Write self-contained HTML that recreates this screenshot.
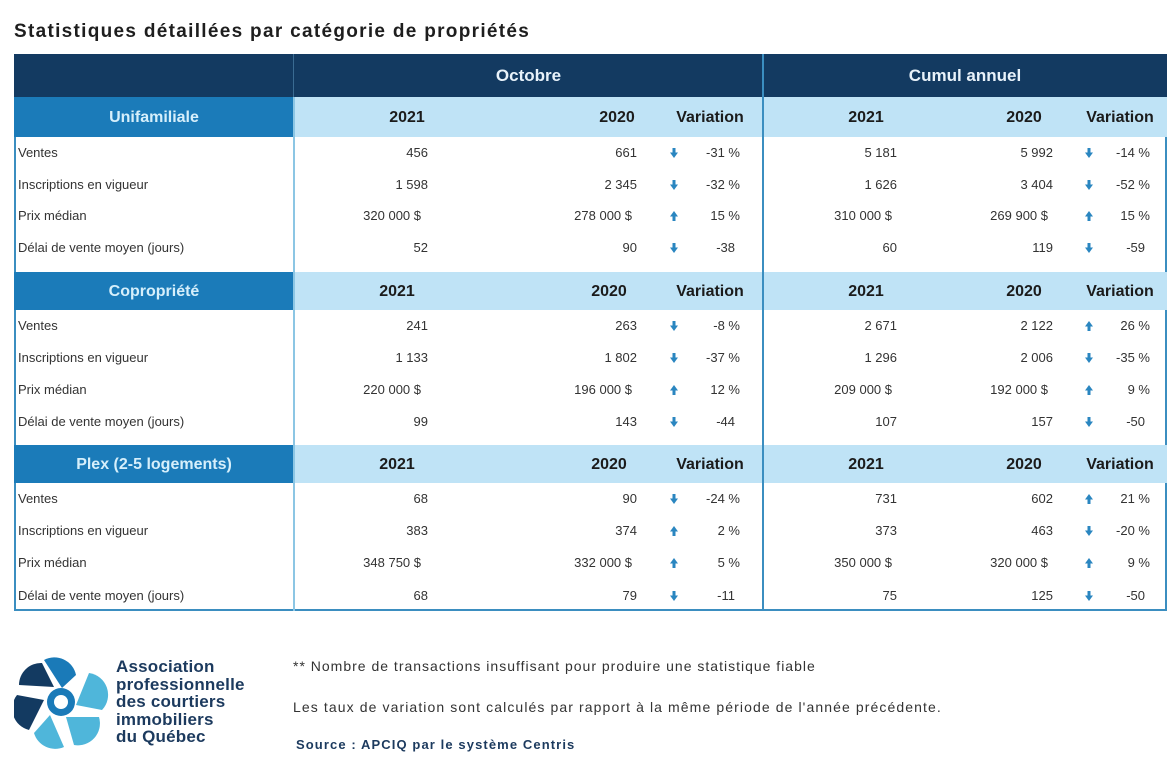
<!DOCTYPE html>
<html><head><meta charset="utf-8"><style>
*{margin:0;padding:0;box-sizing:border-box}
body{width:1174px;height:759px;background:#fff;position:relative;font-family:"Liberation Sans",sans-serif;overflow:hidden}
.a{position:absolute;white-space:nowrap}
.t{font-size:13px;color:#333;line-height:16px}
.r{text-align:right}
.h{font-weight:bold;font-size:16px;color:#1b1b1b;line-height:20px}
.c{text-align:center}
</style></head><body>
<div class="a" style="left:14px;top:21px;font-size:19px;letter-spacing:1.3px;font-weight:bold;color:#1e1e1e">Statistiques détaillées par catégorie de propriétés</div>

<div class="a" style="left:14px;top:54px;width:1153px;height:557px;border:2px solid #3b8ec0"></div>
<div class="a" style="left:14px;top:54px;width:1153px;height:43px;background:#133a61"></div>
<div class="a h c" style="left:294px;top:66px;width:469px;color:#e8f2fa;font-size:17px">Octobre</div>
<div class="a h c" style="left:763px;top:66px;width:404px;color:#e8f2fa;font-size:17px">Cumul annuel</div>

<div class="a" style="left:14px;top:97px;width:280px;height:40px;background:#1b7bb9"></div>
<div class="a" style="left:294px;top:97px;width:873px;height:40px;background:#bfe3f6"></div>
<div class="a" style="left:14px;top:272px;width:280px;height:38px;background:#1b7bb9"></div>
<div class="a" style="left:294px;top:272px;width:873px;height:38px;background:#bfe3f6"></div>
<div class="a" style="left:14px;top:445px;width:280px;height:38px;background:#1b7bb9"></div>
<div class="a" style="left:294px;top:445px;width:873px;height:38px;background:#bfe3f6"></div>

<div class="a" style="left:293px;top:97px;width:2px;height:514px;background:#8cc6e4"></div>
<div class="a" style="left:293px;top:54px;width:1px;height:43px;background:#3a6b92"></div>
<div class="a" style="left:762px;top:54px;width:2px;height:557px;background:#3b8ec0"></div>

<div class="a h c" style="left:14px;top:108px;width:280px;color:#d6effb">Unifamiliale</div>
<div class="a h c" style="left:14px;top:282px;width:280px;color:#d6effb">Copropriété</div>
<div class="a h c" style="left:14px;top:455px;width:280px;color:#d6effb">Plex (2-5 logements)</div>

<div class="a h c" style="left:367px;top:108px;width:80px">2021</div>
<div class="a h c" style="left:577px;top:108px;width:80px">2020</div>
<div class="a h c" style="left:660px;top:108px;width:100px">Variation</div>
<div class="a h c" style="left:826px;top:108px;width:80px">2021</div>
<div class="a h c" style="left:984px;top:108px;width:80px">2020</div>
<div class="a h c" style="left:1070px;top:108px;width:100px">Variation</div>

<div class="a h c" style="left:357px;top:282px;width:80px">2021</div>
<div class="a h c" style="left:569px;top:282px;width:80px">2020</div>
<div class="a h c" style="left:660px;top:282px;width:100px">Variation</div>
<div class="a h c" style="left:826px;top:282px;width:80px">2021</div>
<div class="a h c" style="left:984px;top:282px;width:80px">2020</div>
<div class="a h c" style="left:1070px;top:282px;width:100px">Variation</div>

<div class="a h c" style="left:357px;top:455px;width:80px">2021</div>
<div class="a h c" style="left:569px;top:455px;width:80px">2020</div>
<div class="a h c" style="left:660px;top:455px;width:100px">Variation</div>
<div class="a h c" style="left:826px;top:455px;width:80px">2021</div>
<div class="a h c" style="left:984px;top:455px;width:80px">2020</div>
<div class="a h c" style="left:1070px;top:455px;width:100px">Variation</div>

<svg width="0" height="0" style="position:absolute"><defs>
<symbol id="dn" viewBox="0 0 8 10"><rect x="2.5" y="0" width="3" height="5" fill="#2a86c0"/><polygon points="0,4.5 8,4.5 4,10" fill="#2a86c0"/></symbol>
<symbol id="up" viewBox="0 0 8 10"><rect x="2.5" y="5" width="3" height="5" fill="#2a86c0"/><polygon points="0,5.5 8,5.5 4,0" fill="#2a86c0"/></symbol>
</defs></svg>

<div id="rows"></div>
<script>
var data=[
[153,"Ventes","456","661","dn","-31 %","5 181","5 992","dn","-14 %"],
[185,"Inscriptions en vigueur","1 598","2 345","dn","-32 %","1 626","3 404","dn","-52 %"],
[216,"Prix médian","320 000 $","278 000 $","up","15 %","310 000 $","269 900 $","up","15 %"],
[248,"Délai de vente moyen (jours)","52","90","dn","-38","60","119","dn","-59"],
[326,"Ventes","241","263","dn","-8 %","2 671","2 122","up","26 %"],
[358,"Inscriptions en vigueur","1 133","1 802","dn","-37 %","1 296","2 006","dn","-35 %"],
[390,"Prix médian","220 000 $","196 000 $","up","12 %","209 000 $","192 000 $","up","9 %"],
[422,"Délai de vente moyen (jours)","99","143","dn","-44","107","157","dn","-50"],
[499,"Ventes","68","90","dn","-24 %","731","602","up","21 %"],
[531,"Inscriptions en vigueur","383","374","up","2 %","373","463","dn","-20 %"],
[563,"Prix médian","348 750 $","332 000 $","up","5 %","350 000 $","320 000 $","up","9 %"],
[596,"Délai de vente moyen (jours)","68","79","dn","-11","75","125","dn","-50"]];
var h="";
data.forEach(function(d){
var t=d[0]-8;
var p1=d[2].indexOf("$")>0?421:428, p4=d[6].indexOf("$")>0?892:897;
var p2=d[3].indexOf("$")>0?632:637, p5=d[7].indexOf("$")>0?1048:1053;
var v1=d[5].indexOf("%")>0?740:735, v2=d[9].indexOf("%")>0?1150:1145;
h+='<div class="a t" style="left:18px;top:'+t+'px">'+d[1]+'</div>';
h+='<div class="a t r" style="right:'+(1174-p1)+'px;top:'+t+'px">'+d[2]+'</div>';
h+='<div class="a t r" style="right:'+(1174-p2)+'px;top:'+t+'px">'+d[3]+'</div>';
h+='<svg class="a" style="left:670px;top:'+(d[0]-5)+'px" width="8" height="10"><use href="#'+d[4]+'"/></svg>';
h+='<div class="a t r" style="right:'+(1174-v1)+'px;top:'+t+'px">'+d[5]+'</div>';
h+='<div class="a t r" style="right:'+(1174-p4)+'px;top:'+t+'px">'+d[6]+'</div>';
h+='<div class="a t r" style="right:'+(1174-p5)+'px;top:'+t+'px">'+d[7]+'</div>';
h+='<svg class="a" style="left:1085px;top:'+(d[0]-5)+'px" width="8" height="10"><use href="#'+d[8]+'"/></svg>';
h+='<div class="a t r" style="right:'+(1174-v2)+'px;top:'+t+'px">'+d[9]+'</div>';
});
document.getElementById("rows").innerHTML=h;
</script>

<svg class="a" style="left:14px;top:655px" width="95" height="95" viewBox="0 0 95 95">
<circle cx="47" cy="47" r="14" fill="#1a7ab8"/>
<path d="M30 5 A22 22 0 0 1 62 20 L48 33 Z" fill="#1a7ab8"/>
<path d="M75 18 A22 22 0 0 1 88 55 L62 50 Z" fill="#4fb6da"/>
<path d="M85 62 A22 22 0 0 1 60 90 L52 62 Z" fill="#4fb6da"/>
<path d="M50 92 A22 22 0 0 1 20 78 L36 60 Z" fill="#4fb6da"/>
<path d="M15 75 A22 22 0 0 1 3 40 L30 45 Z" fill="#133a61"/>
<path d="M5 30 A22 22 0 0 1 28 8 L40 32 Z" fill="#133a61"/>
<circle cx="47" cy="47" r="7" fill="#fff"/>
</svg>
<div class="a" style="left:116px;top:658px;font-size:17px;font-weight:bold;color:#1c3a5e;line-height:17.5px;letter-spacing:0.2px">Association<br>professionnelle<br>des courtiers<br>immobiliers<br>du Québec</div>

<div class="a" style="left:293px;top:658px;font-size:14px;letter-spacing:1px;color:#333">** Nombre de transactions insuffisant pour produire une statistique fiable</div>
<div class="a" style="left:293px;top:699px;font-size:14px;letter-spacing:1.1px;color:#333">Les taux de variation sont calculés par rapport à la même période de l'année précédente.</div>
<div class="a" style="left:296px;top:737px;font-size:13px;letter-spacing:1.1px;font-weight:bold;color:#1c3a5e">Source : APCIQ par le système Centris</div>
</body></html>
